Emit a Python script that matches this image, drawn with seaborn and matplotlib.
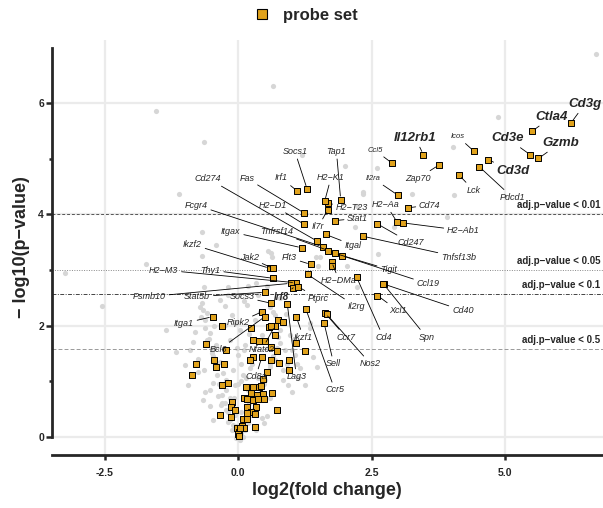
import matplotlib
matplotlib.use("Agg")
import matplotlib.pyplot as plt
from matplotlib.lines import Line2D
from matplotlib.ticker import FormatStrFormatter
import pandas as pd
import seaborn as sns

# background probes (grey dots)
bg_lfc = [-1.54, -0.65, 0.65, 4.88, 6.70, 4.02, 2.00, 2.61, 1.19, -1.11,
          -0.68, -0.41, -0.68, -1.73, 0.56, 0.62, 0.64, 1.46, 1.54, 1.50,
          -0.64, -0.19, 0.19, 0.53, 2.22, 2.19, 2.33, 2.34, 3.25, 4.05,
          3.92, 2.92, 2.62, 2.03, -3.25, -2.55, -1.35, -1.17, -0.69, -0.66,
          -0.59, -0.19, 0.34, 0.78, 1.41, 1.47, 2.22, 1.34, 1.34, 1.00,
          0.94, 0.54, 0.84,
          -0.72, -0.63, -0.53, -0.59, -0.48, -0.42, -0.35, -0.29, -0.23, -0.23,
          -0.16, -0.10, -0.06, -0.03, 0.01, -0.48, -0.53, -0.66, -0.53, -0.48,
          -0.38, -0.33, -0.23, -0.20,
          0.59, 0.69, 0.78, 0.78, 0.87, 0.69, 0.59, 0.84, 0.50, 0.41,
          0.59, 0.31, 0.22, 0.44, 0.12, 0.06,
          0.03, 0.12, -0.01, 0.22, 0.09, -0.06, 0.18, 0.37, -0.16, 0.31,
          0.16, 0.37, -0.12, -0.35, -0.25, 0.44, 0.55, 0.97, 1.06, 1.16,
          1.12, 1.25, 0.03, -0.05, 0.09, 0.33, -0.12, -0.91, -0.81, -1.00,
          -0.76, -0.95, -0.63, -0.45, -0.50, 0.90, 0.05, 0.25, -0.30, 0.48,
          -0.70, -0.62, -0.55, -0.50, -0.44, -0.40, -0.36, -0.30, -0.25, -0.20,
          -0.15, -0.10, -0.05, 0.65, 0.70, 0.75, 0.72, 0.66, 0.60, 0.55,
          0.48, 0.42, 0.36, 0.30, 0.24, 0.18, 0.12, -0.02, 0.05, 0.15,
          0.00, -0.10, 0.10, 0.30, 0.20, -0.05, 0.40, 0.10, -0.25, 0.20,
          0.05, -0.08, 1.00, 1.05, 0.92, 1.10, -0.85, -0.75, -0.65]
bg_logp = [5.86, 5.30, 6.32, 5.75, 6.89, 5.22, 4.87, 4.83, 5.07, 4.37,
           3.68, 3.45, 3.26, 3.10, 3.35, 3.31, 3.24, 3.23, 3.23, 3.07,
           2.70, 2.70, 2.72, 2.71, 4.15, 3.78, 4.41, 4.37, 4.37, 4.35,
           3.95, 3.78, 3.29, 3.07, 2.95, 2.36, 1.92, 1.53, 2.40, 2.28,
           2.22, 2.55, 2.76, 2.49, 1.44, 1.26, 2.70, 2.04, 1.95, 0.81,
           0.93, 0.37, 1.02,
           2.34, 2.10, 1.86, 1.74, 1.45, 1.65, 1.34, 1.14, 1.02, 0.84,
           0.69, 0.55, 0.39, 0.19, 0.08, 0.96, 0.84, 0.66, 0.55, 0.30,
           0.73, 0.57, 0.48, 0.26,
           2.34, 2.19, 1.92, 1.68, 1.56, 1.38, 1.26, 1.20, 1.02, 0.78,
           0.69, 0.57, 0.42, 0.33, 0.21, 0.06,
           1.92, 1.65, 1.47, 1.23, 1.11, 0.93, 0.84, 1.05, 1.74, 2.10,
           2.37, 2.55, 2.19, 2.46, 2.01, 1.83, 1.59, 1.83, 1.47, 1.23,
           1.05, 0.93, -0.06, -0.03, 0.00, 0.12, 0.12, 1.56, 1.89, 1.29,
           1.16, 0.93, 0.80, 2.00, 1.60, 2.20, 1.00, 1.30, 0.60, 0.25,
           2.15, 1.95, 1.75, 1.50, 1.30, 1.10, 0.95, 0.75, 0.60, 0.45,
           0.30, 0.20, 0.10, 2.25, 2.00, 1.80, 1.60, 1.45, 1.30, 1.15,
           0.95, 0.80, 0.65, 0.50, 0.38, 0.25, 0.12, 1.60, 1.30, 1.05,
           0.95, 1.20, 1.55, 1.45, 1.85, 2.05, 2.25, 2.45, 2.35, 0.60,
           0.45, 0.70, 1.55, 1.75, 1.30, 1.30, 1.70, 1.40, 1.20]

# labelled members of the probe set
gene_names = ['Cd3g', 'Ctla4', 'Cd3e', 'Gzmb', 'Cd3d', 'Pdcd1', 'Icos', 'Il12rb1',
              'Zap70', 'Lck', 'Ccl5', 'Il2ra', 'Cd74', 'H2\u2212Aa', 'H2\u2212Ab1',
              'Cd247', 'Tnfsf13b', 'Tap1', 'H2\u2212T23', 'H2\u2212K1', 'Il7r',
              'Stat1', 'Itgal', 'Socs1', 'Irf1', 'Fas', 'H2\u2212D1', 'Cd274',
              'Fcgr4', 'Tnfrsf14', 'Itgax', 'Tigit', 'Ccl19', 'Ikzf2', 'Jak2',
              'Flt3', 'Thy1', 'H2\u2212M3', 'Psmb10', 'Stat5b', 'Socs3', 'Irf8',
              'Ptprc', 'Il2rg', 'H2\u2212DMa', 'Cd4', 'Spn', 'Cd40', 'Xcl1',
              'Lag3', 'Ccr5', 'Ikzf1', 'Ccr7', 'Nos2', 'Sell', 'Itga1', 'Ripk2',
              'Bcl6', 'Nfatc2', 'Cd8a']
gene_lfc = [6.24, 5.51, 5.47, 5.63, 4.68, 4.52, 4.42, 3.47,
            3.76, 4.14, 2.89, 2.99, 3.18, 2.98, 3.08,
            2.61, 2.33, 1.92, 1.68, 1.62, 1.68,
            1.81, 1.64, 1.29, 1.11, 1.23, 1.24, 1.48,
            1.58, 1.69, 1.19, 1.81, 1.94, 0.59, 0.65,
            1.36, 0.66, 1.08, 0.98, 0.50, 0.62, 1.03,
            1.12, 1.30, 1.75, 2.22, 2.73, 2.72, 2.61,
            0.92, 1.27, 1.09, 1.63, 1.66, 1.61, -0.48, 0.45,
            0.50, 0.69, 0.44]
gene_logp = [5.65, 5.50, 5.08, 5.01, 4.99, 4.86, 5.14, 5.08,
             4.89, 4.71, 4.92, 4.35, 4.12, 3.86, 3.85,
             3.83, 3.61, 4.27, 4.20, 4.24, 4.09,
             3.89, 3.64, 4.46, 4.42, 4.03, 3.82, 3.52,
             3.42, 3.35, 3.40, 3.30, 3.26, 3.03, 3.03,
             3.10, 2.85, 2.77, 2.76, 2.60, 2.40, 2.68,
             2.70, 2.92, 3.15, 2.87, 2.74, 2.75, 2.54,
             2.38, 2.29, 2.15, 2.22, 2.20, 2.04, 2.16, 2.25,
             2.16, 2.00, 1.43]

# unlabelled members of the probe set
set_lfc = [1.75, -0.30, 0.24, 0.57, 0.62, 0.74, 0.84, 0.69, 1.09, 1.25,
           -0.61, -0.23, 0.28, 0.39, 0.50, 0.27, 0.22, 0.61, 0.72, 0.61,
           0.77, 0.95, 0.95, -0.80, -0.46, -0.26, -0.41, -0.86, 0.53, 0.46,
           -0.31, -0.19, 0.14, 0.28, 0.39, 0.42, 0.24, 0.35, 0.46, 0.11,
           0.17, 0.27, 0.37, 0.49, 0.64, -0.11, -0.14, -0.06, 0.16, 0.34,
           0.24, 0.17, 0.31, 0.73, -0.35, -0.14, 0.09, 0.16, 0.32, 0.07,
           0.11, -0.03, 0.02, -0.01, 0.02, 0.04]
set_logp = [3.07, 1.99, 1.95, 1.97, 1.99, 2.10, 2.06, 1.83, 1.68, 1.54,
            1.67, 1.55, 1.74, 1.73, 1.73, 1.44, 1.38, 1.62, 1.54, 1.37,
            1.33, 1.38, 1.20, 1.31, 1.38, 1.31, 1.26, 1.10, 1.17, 1.03,
            0.93, 0.96, 0.89, 0.89, 0.89, 0.91, 0.78, 0.75, 0.76, 0.69,
            0.67, 0.66, 0.67, 0.67, 0.78, 0.62, 0.54, 0.47, 0.53, 0.53,
            0.44, 0.42, 0.41, 0.48, 0.39, 0.35, 0.32, 0.31, 0.18, 0.19,
            0.15, 0.15, 0.08, 0.05, 0.01, 0.16]

# adjusted p-value cut-offs
cut_logp = [4.0, 3.0, 2.56, 1.58]
cut_names = ['adj.p\u2212value < 0.01', 'adj.p\u2212value < 0.05',
             'adj.p\u2212value < 0.1', 'adj.p\u2212value < 0.5']

# where each gene label sits (repelled positions)
label_pos = {
    'Cd3g': (6.50, 5.99), 'Ctla4': (5.88, 5.76), 'Cd3e': (5.05, 5.37),
    'Gzmb': (6.04, 5.29), 'Cd3d': (5.16, 4.78), 'Pdcd1': (5.14, 4.31),
    'Icos': (4.12, 5.40), 'Il12rb1': (3.32, 5.38), 'Zap70': (3.37, 4.65),
    'Lck': (4.41, 4.44), 'Ccl5': (2.56, 5.16), 'Il2ra': (2.53, 4.65),
    'Cd74': (3.59, 4.17), 'H2\u2212Aa': (2.77, 4.18), 'H2\u2212Ab1': (4.22, 3.71),
    'Cd247': (3.23, 3.49), 'Tnfsf13b': (4.13, 3.23), 'Tap1': (1.84, 5.14),
    'H2\u2212T23': (2.13, 4.13), 'H2\u2212K1': (1.74, 4.67), 'Il7r': (1.50, 3.78),
    'Stat1': (2.24, 3.93), 'Itgal': (2.15, 3.45), 'Socs1': (1.06, 5.14),
    'Irf1': (0.80, 4.66), 'Fas': (0.16, 4.65), 'H2\u2212D1': (0.65, 4.17),
    'Cd274': (-0.57, 4.65), 'Fcgr4': (-0.79, 4.17), 'Tnfrsf14': (0.72, 3.69),
    'Itgax': (-0.14, 3.69), 'Tigit': (2.82, 3.01), 'Ccl19': (3.56, 2.75),
    'Ikzf2': (-0.86, 3.46), 'Jak2': (0.21, 3.22), 'Flt3': (0.96, 3.22),
    'Thy1': (-0.52, 3.00), 'H2\u2212M3': (-1.40, 3.00), 'Psmb10': (-1.67, 2.52),
    'Stat5b': (-0.77, 2.52), 'Socs3': (0.07, 2.52), 'Irf8': (0.81, 2.51),
    'Ptprc': (1.50, 2.49), 'Il2rg': (2.21, 2.34), 'H2\u2212DMa': (1.89, 2.81),
    'Cd4': (2.72, 1.79), 'Spn': (3.53, 1.79), 'Cd40': (4.21, 2.27),
    'Xcl1': (2.99, 2.27), 'Lag3': (1.09, 1.08), 'Ccr5': (1.81, 0.84),
    'Ikzf1': (1.22, 1.79), 'Ccr7': (2.02, 1.79), 'Nos2': (2.48, 1.31),
    'Sell': (1.79, 1.31), 'Itga1': (-1.02, 2.04), 'Ripk2': (-0.01, 2.05),
    'Bcl6': (-0.37, 1.56), 'Nfatc2': (0.44, 1.56), 'Cd8a': (0.33, 1.08),
}
big_labels = ['Cd3g', 'Ctla4', 'Cd3e', 'Gzmb', 'Cd3d', 'Il12rb1']
small_labels = ['Icos', 'Ccl5', 'Il2ra']

orange = '#E0A21C'

sns.set_style('white')
plt.rcParams['font.family'] = ['Liberation Sans', 'DejaVu Sans']

bg = pd.DataFrame({'lfc': bg_lfc, 'logp': bg_logp})
probes = pd.DataFrame({'lfc': gene_lfc + set_lfc, 'logp': gene_logp + set_logp})

fig = plt.figure(figsize=(6.03, 5.08), dpi=100)
ax = fig.add_axes([0.0857, 0.1043, 0.9143, 0.817])

# background grid
for gx in [-2.5, 0, 2.5, 5]:
    ax.axvline(gx, color='#EBEBEB', lw=1.6, zorder=0)
for gy in [0, 2, 4, 6]:
    ax.axhline(gy, color='#EBEBEB', lw=1.6, zorder=0)

sns.scatterplot(data=bg, x='lfc', y='logp', ax=ax, color='#D6D6D6',
                s=14, linewidth=0, zorder=1, legend=False)

# cut-off lines
line_styles = [(0, (3, 2)), (0, (1, 1.5)), (0, (4, 1.5, 1, 1.5)), (0, (4, 2.2))]
line_colors = ['#555555', '#888888', '#444444', '#999999']
for cy, cname, ls, lc in zip(cut_logp, cut_names, line_styles, line_colors):
    ax.axhline(cy, color=lc, lw=0.7, ls=ls, zorder=2)
    ax.annotate(cname, xy=(1.0, cy), xycoords=('axes fraction', 'data'),
                xytext=(-2, 3), textcoords='offset points', ha='right', va='bottom',
                fontsize=7, fontweight='bold', zorder=6)

sns.scatterplot(data=probes, x='lfc', y='logp', ax=ax, color=orange, marker='s',
                s=15, edgecolor='black', linewidth=0.7, zorder=4, legend=False)

# gene labels with leader lines
for name, gx, gy in zip(gene_names, gene_lfc, gene_logp):
    tx, ty = label_pos[name]
    if name in big_labels:
        fs, fw = 9.5, 'bold'
    elif name in small_labels:
        fs, fw = 5.5, 'normal'
    elif name == 'Irf8':
        fs, fw = 7, 'bold'
    else:
        fs, fw = 6.5, 'normal'
    ax.annotate(name, xy=(gx, gy), xytext=(tx, ty), fontsize=fs, fontweight=fw,
                fontstyle='italic', ha='center', va='center', zorder=5,
                arrowprops=dict(arrowstyle='-', color='black', lw=0.6,
                                shrinkA=0, shrinkB=2.5))

ax.set_xlim(-3.5, 6.84)
ax.set_ylim(-0.333, 7.144)
ax.set_xticks([-2.5, 0, 2.5, 5])
ax.set_yticks([0, 2, 4, 6])
ax.set_yticks([1, 3, 5], minor=True)
ax.xaxis.set_major_formatter(FormatStrFormatter('%.1f'))

for side in ['top', 'right']:
    ax.spines[side].set_visible(False)
ax.spines['left'].set_linewidth(2)
ax.spines['bottom'].set_linewidth(2)
ax.spines['left'].set_bounds(0, 7)
ax.tick_params(axis='x', which='major', direction='out', length=3.5, width=1.8,
               pad=6, labelsize=7.5, bottom=True)
ax.tick_params(axis='y', which='major', direction='out', length=4.5, width=1.8,
               pad=1, labelsize=7.5, left=True)
ax.tick_params(axis='y', which='minor', direction='out', length=2.5, width=1.8, left=True)
for lbl in ax.get_xticklabels() + ax.get_yticklabels():
    lbl.set_fontweight('bold')

ax.set_xlabel('log2(fold change)', fontsize=13, fontweight='bold', labelpad=3)
ax.set_ylabel('\u2212 log10(p\u2212value)', fontsize=13, fontweight='bold', labelpad=6)

handle = Line2D([], [], marker='s', ls='', markersize=7, markerfacecolor=orange,
                markeredgecolor='black', markeredgewidth=0.8)
fig.legend([handle], ['probe set'], loc='center', bbox_to_anchor=(0.50, 0.97),
           frameon=False, handletextpad=0.3, prop={'weight': 'bold', 'size': 12})

fig.savefig('out.png', dpi=100)
